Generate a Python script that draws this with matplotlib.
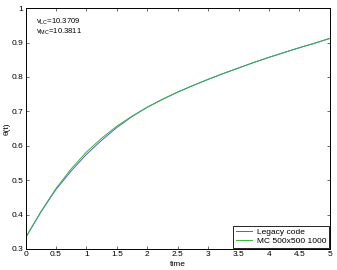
import matplotlib
matplotlib.use("Agg")
import matplotlib.pyplot as plt

# =========================
# DATA
# =========================

t = [0, 0.25, 0.5, 0.75, 1.0, 1.25, 1.5, 1.75, 2.0, 2.25, 2.5, 2.75,
     3.0, 3.25, 3.5, 3.75, 4.0, 4.25, 4.5, 4.75, 5.0]

theta_mc = [0.333, 0.408, 0.476, 0.533, 0.582, 0.622, 0.657, 0.686, 0.712,
            0.735, 0.756, 0.775, 0.793, 0.810, 0.826, 0.842, 0.857, 0.871,
            0.885, 0.898, 0.912]

theta_legacy = [0.333, 0.407, 0.473, 0.527, 0.575, 0.616, 0.653, 0.685, 0.712,
                0.735, 0.756, 0.775, 0.793, 0.810, 0.826, 0.842, 0.857, 0.871,
                0.885, 0.898, 0.912]

labels = ["Legacy code", "MC 500x500 1000"]

# =========================
# PLOT
# =========================

plt.rcParams["font.family"] = ["Liberation Sans", "DejaVu Sans"]
plt.rcParams["mathtext.fontset"] = "custom"
plt.rcParams["mathtext.rm"] = "Liberation Sans"
plt.rcParams["mathtext.it"] = "Liberation Sans"

fig = plt.figure(figsize=(3.37, 2.70), dpi=100)
ax = fig.add_axes([0.076, 0.078, 0.903, 0.892])

ax.plot(t, theta_legacy, color="#5555ff", lw=0.7, label=labels[0])
ax.plot(t, theta_mc, color="#33b833", lw=0.7, label=labels[1])

ax.set_xlim(0, 5)
ax.set_ylim(0.3, 1.0)
ax.set_xticks([0, 0.5, 1, 1.5, 2, 2.5, 3, 3.5, 4, 4.5, 5])
ax.set_xticklabels(["0", "0.5", "1", "1.5", "2", "2.5", "3", "3.5", "4", "4.5", "5"])
ax.set_yticks([0.3, 0.4, 0.5, 0.6, 0.7, 0.8, 0.9, 1.0])
ax.set_yticklabels(["0.3", "0.4", "0.5", "0.6", "0.7", "0.8", "0.9", "1"])

ax.tick_params(direction="in", length=2.5, width=0.5, top=True, right=True,
               pad=1.5, labelsize=6, colors="#333333", labelcolor="black")
for s in ax.spines.values():
    s.set_linewidth(0.7)

ax.set_xlabel("time", fontsize=6)
ax.xaxis.set_label_coords(0.5, -0.05)
ax.set_ylabel("θ(t)", fontsize=6)
ax.yaxis.set_label_coords(-0.05, 0.5)

ax.text(0.17, 0.955, r"v$_{\rm LC}$=10.3709", fontsize=5.5)
ax.text(0.17, 0.925, r"v$_{\rm MC}$=10.3811", fontsize=5.5)

leg = ax.legend(loc="lower right", fontsize=6, fancybox=False,
                edgecolor="black", framealpha=1, borderpad=0.3,
                handlelength=1.9, labelspacing=0.15, borderaxespad=0.15,
                handletextpad=0.6)
leg.get_frame().set_linewidth(0.6)

plt.savefig("out.png", dpi=100)
